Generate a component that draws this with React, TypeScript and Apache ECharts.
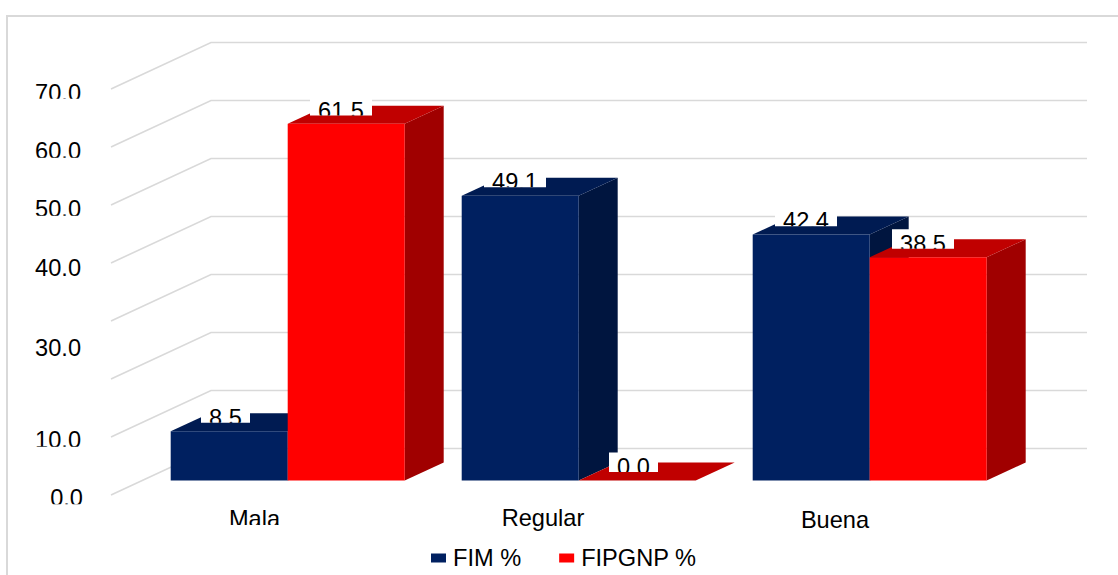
import React, { useEffect, useRef } from "react";
import * as echarts from "echarts";

// Chart values
const categories = ["Mala", "Regular", "Buena"];
const fimValues = [8.5, 49.1, 42.4];
const fipgnpValues = [61.5, 0.0, 38.5];
const gridValues = [0, 10, 20, 30, 40, 50, 60, 70];
const tickLabels = ["70.0", "60.0", "50.0", "40.0", "30.0", "10.0", "0.0"];

// Text layout: top of the digits and the line where each label is cut off
const tickTops = [84, 141.3, 199.3, 258.3, 338.3, 430.7, 489];
const tickCuts = [98.7, 157.7, 215.7, 276, 356, 446.7, 504.3];
const tickRights = [81, 81, 81, 81, 81, 81, 83];
const categoryCentres = [254.5, 543, 835];
const categoryTops = [509.3, 508.5, 510.5];
const categoryCuts = [525, 575, 575];

const FONT = '"Liberation Sans", Arial, sans-serif';
const FONT_SIZE = 23.6;
const CAP = 16.9;
const TEXT_NUDGE = 0.8;
const NAVY = { front: "#002060", top: "#001b52", side: "#00153f" };
const RED = { front: "#ff0000", top: "#c00000", side: "#a00000" };
const DEPTH_X = 39;
const DEPTH_Y = 18;
const BAR_RATIO = 117 / 291;

const textEl = (text: string, x: number, capTop: number, align: string, cut: number) => ({
  type: "group",
  clipPath: { type: "rect", shape: { x: 0, y: 0, width: 1118, height: cut } },
  children: [
    {
      type: "text",
      style: {
        text,
        x,
        y: capTop + CAP / 2 + TEXT_NUDGE,
        fill: "#000000",
        font: `${FONT_SIZE}px ${FONT}`,
        align,
        verticalAlign: "middle",
      },
    },
  ],
});

// One extruded bar: front, top and right faces share the value-axis scale
const barSeries = (name: string, values: number[], side: -1 | 0, shade: typeof NAVY) => ({
  type: "custom",
  name,
  coordinateSystem: "cartesian2d",
  itemStyle: { color: shade.front },
  encode: { x: 0, y: 1 },
  data: values.map((v, i) => [i, v]),
  renderItem: (_: unknown, api: any) => {
    const [cx, yTop] = api.coord([api.value(0), api.value(1)]);
    const [, yBase] = api.coord([api.value(0), 0]);
    const w = api.size([1, 0])[0] * BAR_RATIO;
    const x0 = cx + side * w;
    const x1 = x0 + w;
    const dx = DEPTH_X;
    const dy = DEPTH_Y;
    const poly = (points: number[][], fill: string) => ({
      type: "polygon",
      shape: { points },
      style: { fill },
    });
    return {
      type: "group",
      children: [
        poly([[x1, yTop], [x1 + dx, yTop - dy], [x1 + dx, yBase - dy], [x1, yBase]], shade.side),
        poly([[x0, yTop], [x0 + dx, yTop - dy], [x1 + dx, yTop - dy], [x1, yTop]], shade.top),
        { type: "rect", shape: { x: x0, y: yTop, width: w, height: yBase - yTop }, style: { fill: shade.front } },
      ],
    };
  },
});

// White-backed value label that sits on the bar's top face and cuts its own digits
const valueLabelSeries = (name: string, values: number[], side: -1 | 0) => ({
  type: "custom",
  name,
  coordinateSystem: "cartesian2d",
  encode: { x: 0, y: 1 },
  data: values.map((v, i) => [i, v]),
  renderItem: (_: unknown, api: any) => {
    const value = api.value(1);
    const [cx, yTop] = api.coord([api.value(0), value]);
    const w = api.size([1, 0])[0] * BAR_RATIO;
    const text = value.toFixed(1);
    const boxW = text.length === 3 ? 49 : 62;
    const centre = cx + side * w + w / 2 - (text.length === 3 ? 3.7 : 5.2);
    const bottom = yTop - 8.4;
    const height = 19.6;
    return {
      type: "group",
      children: [
        {
          type: "rect",
          shape: { x: centre - boxW / 2, y: bottom - height, width: boxW, height },
          style: { fill: "#ffffff" },
        },
        textEl(text, centre, bottom + 2.8 - CAP, "center", bottom),
      ],
    };
  },
});

const App = () => {
  const ref = useRef<HTMLDivElement>(null);

  useEffect(() => {
    document.body.style.margin = "0";
    document.body.style.overflow = "hidden";
    const chart = echarts.init(ref.current!, undefined, { renderer: "svg" });
    chart.setOption({
      animation: false,
      backgroundColor: "#ffffff",
      grid: { left: 142.2, top: 74.5, width: 873, height: 406 },
      xAxis: {
        type: "category",
        data: categories,
        axisLine: { show: false },
        axisTick: { show: false },
        axisLabel: { show: false },
        splitLine: { show: false },
      },
      yAxis: {
        type: "value",
        min: 0,
        max: 70,
        interval: 10,
        axisLine: { show: false },
        axisTick: { show: false },
        axisLabel: { show: false },
        splitLine: { show: false },
      },
      legend: {
        data: ["FIM %", "FIPGNP %"],
        left: 431,
        top: 546,
        padding: 0,
        icon: "rect",
        itemWidth: 15,
        itemHeight: 9,
        itemGap: 38,
        textStyle: {
          fontFamily: FONT,
          fontSize: FONT_SIZE,
          color: "#000000",
          padding: [6, 0, 0, 2],
        },
      },
      graphic: [
        {
          type: "polyline",
          silent: true,
          shape: { points: [[7, 575], [7, 16], [1118, 16]] },
          style: { stroke: "#d9d9d9", lineWidth: 2, fill: "none" },
        },
      ],
      series: [
        {
          type: "custom",
          name: "walls",
          coordinateSystem: "cartesian2d",
          encode: { y: 0 },
          data: gridValues.map((v) => [v]),
          renderItem: (_: unknown, api: any) => {
            const [, y] = api.coord([0, api.value(0)]);
            return {
              type: "polyline",
              shape: {
                points: [
                  [111, y + 14.5],
                  [211, y - 32],
                  [1087, y - 32],
                ],
              },
              style: { stroke: "#d9d9d9", lineWidth: 1.6, fill: "none" },
            };
          },
        },
        barSeries("FIM %", fimValues, -1, NAVY),
        barSeries("FIPGNP %", fipgnpValues, 0, RED),
        valueLabelSeries("FIM % labels", fimValues, -1),
        valueLabelSeries("FIPGNP % labels", fipgnpValues, 0),
        {
          type: "custom",
          name: "axis text",
          coordinateSystem: "cartesian2d",
          encode: { x: 0, y: 1 },
          data: [[0, 0]],
          renderItem: () => ({
            type: "group",
            children: [
              ...tickLabels.map((t, i) => textEl(t, tickRights[i], tickTops[i], "right", tickCuts[i])),
              ...categories.map((c, i) => textEl(c, categoryCentres[i], categoryTops[i], "center", categoryCuts[i])),
            ],
          }),
        },
      ],
    });
    return () => chart.dispose();
  }, []);

  return <div ref={ref} style={{ position: "absolute", left: 0, top: 0, width: 1118, height: 575 }} />;
};

export default App;
